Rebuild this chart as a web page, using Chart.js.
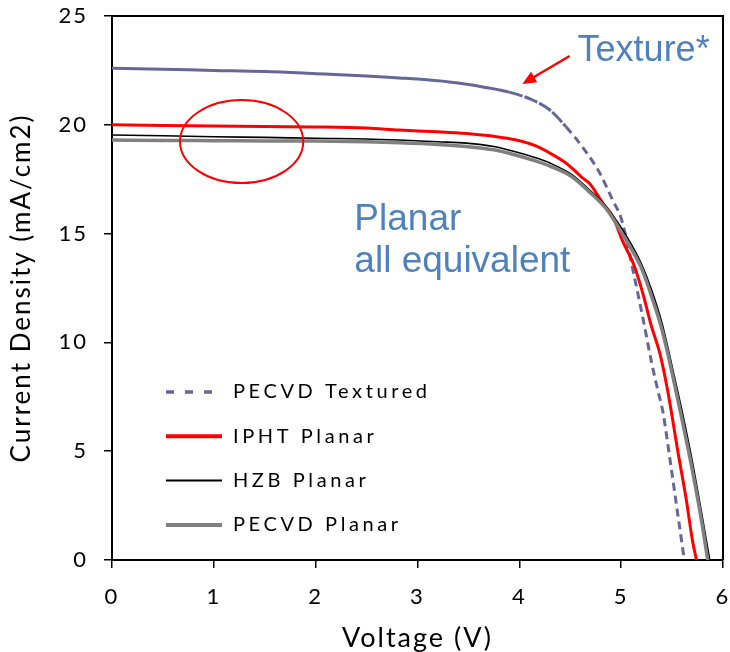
<!DOCTYPE html>
<html>
<head>
<meta charset="utf-8">
<script src="https://cdn.jsdelivr.net/npm/chart.js@4.4.1/dist/chart.umd.min.js"></script>
<style>
  html, body { margin: 0; padding: 0; background: #fff; }
  #wrap { width: 730px; height: 652px; }
</style>
</head>
<body>
<div id="wrap"><canvas id="iv-chart"></canvas></div>
<script>
// J-V curves
var seriesNames = ["PECVD Textured", "IPHT Planar", "HZB Planar", "PECVD Planar"];

var texturedV = [0, 0.5, 1, 1.5, 2, 2.5, 2.82, 3.0, 3.31, 3.5, 3.64, 3.9, 4.13, 4.3, 4.46, 4.62, 4.79, 4.92, 5.0, 5.13, 5.21, 5.3, 5.36, 5.41, 5.48, 5.55, 5.62];
var texturedJ = [22.6, 22.55, 22.5, 22.45, 22.35, 22.24, 22.15, 22.1, 21.97, 21.85, 21.74, 21.5, 21.14, 20.68, 19.9, 18.98, 17.78, 16.5, 15.7, 13.0, 11.2, 9.05, 7.8, 6.8, 4.6, 2.3, 0];

var iphtV = [0, 0.5, 1, 1.5, 2, 2.5, 2.82, 3.2, 3.48, 3.75, 3.97, 4.15, 4.3, 4.44, 4.52, 4.61, 4.69, 4.82, 4.92, 5.01, 5.13, 5.21, 5.3, 5.38, 5.46, 5.56, 5.64, 5.7, 5.74];
var iphtJ = [20.0, 19.97, 19.95, 19.92, 19.9, 19.85, 19.76, 19.68, 19.6, 19.47, 19.3, 19.05, 18.7, 18.3, 18.0, 17.6, 17.3, 16.4, 15.76, 14.7, 13.5, 12.3, 10.7, 9.5, 7.7, 4.9, 2.76, 0.9, 0];

var hzbV = [0, 0.5, 1, 1.5, 2, 2.5, 2.82, 3.2, 3.48, 3.75, 3.97, 4.15, 4.3, 4.52, 4.69, 4.86, 5.01, 5.1, 5.2, 5.3, 5.4, 5.5, 5.6, 5.7, 5.8, 5.87];
var hzbJ = [19.53, 19.5, 19.45, 19.42, 19.38, 19.35, 19.3, 19.22, 19.16, 19.0, 18.75, 18.5, 18.24, 17.7, 17.0, 16.2, 15.2, 14.5, 13.6, 12.4, 10.9, 8.9, 6.8, 4.5, 1.9, 0];

var pecvdV = [0, 0.5, 1, 1.5, 2, 2.5, 2.82, 3.2, 3.48, 3.75, 3.97, 4.15, 4.3, 4.52, 4.69, 4.86, 5.01, 5.1, 5.2, 5.3, 5.4, 5.5, 5.6, 5.7, 5.8, 5.85];
var pecvdJ = [19.3, 19.28, 19.27, 19.26, 19.25, 19.22, 19.18, 19.1, 19.0, 18.85, 18.6, 18.35, 18.1, 17.6, 16.9, 16.1, 15.0, 14.3, 13.4, 12.1, 10.6, 8.6, 6.4, 4.1, 1.5, 0];

var xTicks = [0, 1, 2, 3, 4, 5, 6];
var yTicks = [0, 5, 10, 15, 20, 25];

function toPoints(vs, js) {
    return vs.map(function (v, i) { return {x: v, y: js[i]}; });
}

// Excel's dashes only open up where the textured curve gets steep
function texturedDash(c) {
    var p0 = c.p0.parsed, p1 = c.p1.parsed;
    var slope = Math.abs((p1.y - p0.y) / (p1.x - p0.x));
    if (slope > 5) return [8, 5];
    if (slope > 1.5) return [14, 2];
    return [];
}

var noteBlue = "#4f81bd";

// legend, plot frame, and the hand-drawn notes (ellipse, arrow, text)
var extrasPlugin = {
    id: 'extras',
    beforeDraw: function (chart) {
        // the original axis texts are loosely spaced
        chart.ctx.letterSpacing = "2px";
    },
    afterDatasetsDraw: function (chart) {
        var ctx = chart.ctx, a = chart.chartArea;
        var xs = chart.scales.x, ys = chart.scales.y;
        ctx.save();
        ctx.letterSpacing = "0px";

        // frame on top / right
        ctx.strokeStyle = "#000";
        ctx.lineWidth = 2;
        ctx.beginPath();
        ctx.moveTo(a.left, a.top);
        ctx.lineTo(a.right, a.top);
        ctx.lineTo(a.right, a.bottom);
        ctx.stroke();

        // red ellipse around the flat part
        ctx.strokeStyle = "#ff0000";
        ctx.lineWidth = 2;
        var cx = xs.getPixelForValue(1.273), cy = ys.getPixelForValue(19.23);
        var rx = xs.getPixelForValue(0.605) - xs.getPixelForValue(0);
        var ry = ys.getPixelForValue(0) - ys.getPixelForValue(1.907);
        ctx.beginPath();
        ctx.ellipse(cx, cy, rx, ry, 0, 0, Math.PI * 2);
        ctx.stroke();

        // arrow to the textured curve
        var x0 = xs.getPixelForValue(4.494), y0 = ys.getPixelForValue(23.16);
        var x1 = xs.getPixelForValue(4.03), y1 = ys.getPixelForValue(21.88);
        var ang = Math.atan2(y1 - y0, x1 - x0);
        var head = 15;
        ctx.lineWidth = 2.5;
        ctx.beginPath();
        ctx.moveTo(x0, y0);
        ctx.lineTo(x1 - Math.cos(ang) * head * 0.8, y1 - Math.sin(ang) * head * 0.8);
        ctx.stroke();
        ctx.fillStyle = "#ff0000";
        ctx.beginPath();
        ctx.moveTo(x1, y1);
        ctx.lineTo(x1 - head * Math.cos(ang - 0.42), y1 - head * Math.sin(ang - 0.42));
        ctx.lineTo(x1 - head * Math.cos(ang + 0.42), y1 - head * Math.sin(ang + 0.42));
        ctx.closePath();
        ctx.fill();

        // note texts
        ctx.fillStyle = noteBlue;
        ctx.font = "36px 'Liberation Sans', Arial, sans-serif";
        ctx.textAlign = "left";
        ctx.textBaseline = "alphabetic";
        ctx.fillText("Texture*", xs.getPixelForValue(4.572), ys.getPixelForValue(22.93));
        ctx.font = "37px 'Liberation Sans', Arial, sans-serif";
        ctx.fillText("Planar", xs.getPixelForValue(2.38), ys.getPixelForValue(15.17));
        ctx.fillText("all equivalent", xs.getPixelForValue(2.38), ys.getPixelForValue(13.24));

        // legend inside the plot
        var legendDash = [[8, 11], [], [], []];
        var legendWidth = [3.5, 4, 2, 4];
        var lx = a.left + 54, rowTop = a.top + 376, rowGap = 44.3;
        ctx.font = "20px Lato, sans-serif";
        ctx.letterSpacing = "3.6px";
        ctx.textBaseline = "middle";
        chart.data.datasets.forEach(function (ds, i) {
            var y = rowTop + i * rowGap;
            ctx.strokeStyle = ds.borderColor;
            ctx.lineWidth = legendWidth[i];
            ctx.setLineDash(legendDash[i]);
            ctx.beginPath();
            ctx.moveTo(lx, y);
            ctx.lineTo(lx + 56, y);
            ctx.stroke();
            ctx.setLineDash([]);
            ctx.fillStyle = "#000";
            ctx.fillText(ds.label, lx + 67, y);
        });
        ctx.restore();
    }
};

new Chart(document.getElementById("iv-chart"), {
    type: 'line',
    data: {
        datasets: [
            {
                label: seriesNames[0],
                data: toPoints(texturedV, texturedJ),
                borderColor: "#666699",
                borderWidth: 3,
                segment: { borderDash: texturedDash },
                order: 3
            },
            {
                label: seriesNames[1],
                data: toPoints(iphtV, iphtJ),
                borderColor: "#ff0000",
                borderWidth: 3,
                order: 2
            },
            {
                label: seriesNames[2],
                data: toPoints(hzbV, hzbJ),
                borderColor: "#000000",
                borderWidth: 1.6,
                order: 1
            },
            {
                label: seriesNames[3],
                data: toPoints(pecvdV, pecvdJ),
                borderColor: "#808080",
                borderWidth: 3.5,
                order: 0
            }
        ]
    },
    options: {
        responsive: true,
        maintainAspectRatio: false,
        devicePixelRatio: 1,
        animation: false,
        layout: { padding: { top: 16, right: 7, bottom: 0, left: 0 } },
        elements: {
            point: { radius: 0 },
            line: { cubicInterpolationMode: 'monotone', fill: false }
        },
        plugins: {
            legend: { display: false },
            tooltip: { enabled: false }
        },
        scales: {
            x: {
                type: 'linear',
                min: 0,
                max: 6,
                afterBuildTicks: function (s) { s.ticks = xTicks.map(function (v) { return {value: v}; }); },
                afterFit: function (s) { s.height = 92; s.paddingLeft = 0; s.paddingRight = 0; },
                grid: { drawOnChartArea: false, drawTicks: true, tickLength: 8, color: "#000", lineWidth: 1.5 },
                border: { display: true, color: "#000", width: 2 },
                ticks: { color: "#000", padding: 16, font: { family: "Lato", size: 22 } },
                title: {
                    display: true,
                    text: "Voltage (V)",
                    color: "#000",
                    font: { family: "Lato", size: 27 },
                    padding: { top: 0, bottom: -2 }
                }
            },
            y: {
                type: 'linear',
                min: 0,
                max: 25,
                afterBuildTicks: function (s) { s.ticks = yTicks.map(function (v) { return {value: v}; }); },
                afterFit: function (s) { s.width = 112; s.paddingTop = 0; s.paddingBottom = 0; },
                grid: { drawOnChartArea: false, drawTicks: true, tickLength: 8, color: "#000", lineWidth: 1.5 },
                border: { display: true, color: "#000", width: 2 },
                ticks: { color: "#000", padding: 16, font: { family: "Lato", size: 22 } },
                title: {
                    display: true,
                    text: "Current Density (mA/cm2)",
                    color: "#000",
                    font: { family: "Lato", size: 26 },
                    padding: { top: 6, bottom: 0 }
                }
            }
        }
    },
    plugins: [extrasPlugin]
});
</script>
</body>
</html>
